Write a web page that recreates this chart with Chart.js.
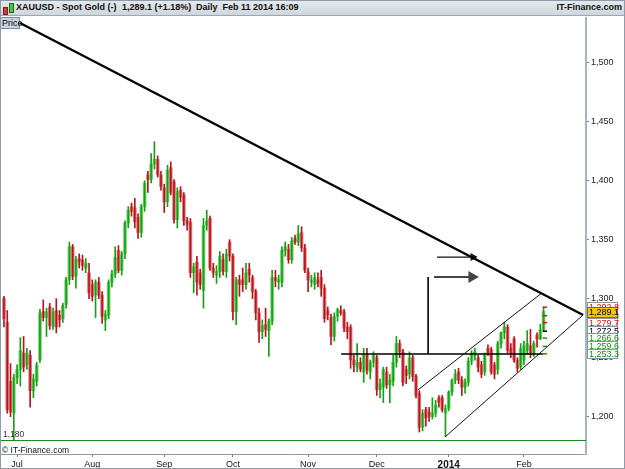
<!DOCTYPE html>
<html>
<head>
<meta charset="utf-8">
<script src="https://cdn.jsdelivr.net/npm/chart.js@4"></script>
<style>
  body { margin: 0; width: 625px; height: 469px; overflow: hidden; background: #fff;
         font-family: "Liberation Sans", Arial, sans-serif; position: relative; }
  #hdr { position: absolute; left: 0; top: 0; width: 625px; height: 16px; box-sizing: border-box;
         background: linear-gradient(#e6eaee, #cfd6dd); border-bottom: 1px solid #9aa7b4;
         font-size: 9px; font-weight: bold; color: #111; white-space: nowrap; }
  #hdr span { position: absolute; top: 2px; }
  .ic { position: absolute; width: 3px; }
  #wrap { position: absolute; left: 0; top: 17px; width: 625px; height: 452px; }
  #price { position: absolute; left: 0; top: 17px; width: 20px; height: 12px; box-sizing: border-box;
           background: #c9d3dd; border: 1px solid #7d8c9b; font-size: 9px; line-height: 10px; padding-left: 1px; }
  #copy { position: absolute; left: 2px; top: 445px; font-size: 8.5px; color: #111; }
  #frame { position: absolute; left: 0; top: 0; width: 625px; height: 469px; box-sizing: border-box;
           border: 1px solid #8d9aa7; pointer-events: none; }
</style>
</head>
<body>
<div id="hdr">
  <div class="ic" style="left:3px;top:7px;height:6px;background:#d23a3a;border:1px solid #8a1a1a"></div>
  <div class="ic" style="left:9px;top:3px;height:8px;background:#4cc24c;border:1px solid #127012"></div>
  <span style="left:16px">XAUUSD - Spot Gold (-)</span>
  <span style="left:122px">1,289.1 (+1.18%)</span>
  <span style="left:196px">Daily&nbsp; Feb 11 2014 16:09</span>
  <span style="right:3px">IT-Finance.com</span>
</div>
<div id="wrap"><canvas id="goldChart" width="625" height="452"></canvas></div>
<div id="price">Price</div>
<div id="copy">© IT-Finance.com</div>
<div id="frame"></div>

<script>
// daily candles, Jun 25 2013 .. Feb 11 2014 (one per weekday)
const opens = [1300,1280,1230,1203,1233,1240,1254,1244,1252,1222,1230,1248,1289,1284,1293,1277,1290,1286,1283,1295,
  1316,1344,1319,1334,1333,1326,1322,1312,1303,1314,1303,1282,1286,1314,1321,1341,1324,1338,1364,1378,
  1377,1369,1356,1378,1405,1401,1414,1418,1405,1394,1382,1411,1399,1367,1392,1388,1366,1365,1322,1331,
  1322,1307,1362,1368,1326,1320,1323,1333,1323,1348,1336,1289,1316,1316,1312,1325,1318,1306,1288,1272,
  1278,1273,1281,1318,1314,1314,1341,1342,1333,1351,1348,1356,1343,1323,1314,1312,1316,1318,1309,1290,
  1284,1268,1285,1290,1289,1276,1276,1248,1242,1246,1238,1252,1238,1246,1250,1223,1225,1238,1227,1230,
  1246,1262,1255,1240,1236,1250,1234,1220,1191,1206,1204,1200,1203,1216,1216,1203,1207,1221,1231,1238,
  1231,1225,1229,1247,1252,1250,1244,1238,1258,1257,1244,1240,1262,1271,1276,1258,1266,1248,1242,1248,
  1256,1260,1253,1269,1266,1273.8];
const highs = [1302,1290,1245,1236,1244,1267,1268,1258,1256,1236,1246,1291,1299,1292,1296,1292,1300,1290,1296,1318,
  1348,1346,1336,1338,1337,1334,1330,1316,1316,1318,1306,1290,1316,1324,1344,1345,1340,1366,1378,1381,
  1385,1372,1380,1400,1408,1423,1433,1421,1408,1397,1413,1416,1401,1394,1395,1390,1369,1368,1330,1336,
  1325,1368,1375,1370,1330,1328,1340,1338,1342,1350,1338,1318,1320,1326,1330,1330,1320,1308,1292,1282,
  1292,1283,1324,1324,1320,1344,1348,1346,1352,1354,1362,1361,1346,1326,1320,1322,1322,1324,1312,1293,
  1287,1288,1292,1294,1291,1280,1278,1252,1262,1250,1258,1258,1248,1255,1252,1232,1242,1242,1236,1252,
  1268,1265,1257,1243,1255,1252,1236,1222,1206,1208,1208,1216,1214,1218,1218,1210,1222,1232,1240,1241,
  1234,1232,1250,1256,1258,1252,1247,1254,1261,1259,1246,1264,1272,1280,1278,1262,1268,1250,1262,1264,
  1273,1274,1264,1271,1278.4,1293];
const lows = [1276,1203,1200,1180,1228,1226,1238,1240,1208,1216,1226,1246,1281,1268,1274,1274,1271,1276,1280,1292,
  1312,1316,1309,1326,1324,1322,1300,1298,1284,1300,1279,1273,1283,1310,1318,1322,1320,1334,1360,1370,
  1360,1351,1352,1374,1390,1398,1410,1403,1392,1373,1378,1388,1364,1360,1382,1362,1358,1318,1305,1303,
  1308,1292,1358,1324,1318,1313,1318,1320,1318,1332,1282,1278,1302,1306,1308,1314,1300,1282,1263,1266,
  1268,1251,1278,1310,1308,1310,1336,1330,1330,1346,1345,1340,1322,1306,1310,1308,1310,1302,1280,1282,
  1261,1264,1281,1286,1272,1266,1241,1238,1238,1238,1229,1236,1232,1242,1218,1216,1212,1224,1212,1226,
  1242,1250,1226,1228,1232,1230,1216,1187,1188,1192,1196,1198,1200,1208,1204,1183,1205,1218,1228,1228,
  1218,1220,1226,1244,1248,1238,1233,1235,1252,1236,1232,1236,1258,1266,1254,1250,1246,1238,1240,1244,
  1253,1250,1251,1259,1265.3,1272];
const closes = [1283,1206,1204,1233,1240,1256,1242,1254,1222,1232,1244,1288,1284,1289,1277,1289,1276,1282,1294,1316,
  1344,1319,1333,1331,1328,1330,1305,1302,1314,1303,1285,1287,1314,1321,1335,1324,1338,1364,1375,1374,
  1365,1356,1378,1398,1401,1414,1418,1405,1395,1382,1409,1390,1367,1391,1386,1366,1363,1322,1327,1314,
  1312,1362,1366,1326,1322,1323,1336,1323,1338,1336,1289,1316,1312,1312,1322,1320,1306,1288,1272,1277,
  1274,1281,1318,1315,1316,1341,1344,1333,1349,1348,1355,1343,1324,1316,1316,1318,1313,1309,1283,1286,
  1268,1285,1291,1288,1275,1272,1248,1244,1246,1240,1252,1240,1246,1252,1223,1228,1240,1227,1231,1246,
  1262,1255,1229,1235,1250,1234,1218,1191,1203,1199,1200,1203,1210,1212,1206,1207,1221,1231,1236,1231,
  1225,1229,1247,1254,1255,1242,1236,1252,1254,1238,1236,1262,1271,1276,1256,1254,1248,1241,1258,1260,
  1262,1253,1262,1266,1273.8,1289.1];

const monthLabels = ["Jul", "Aug", "Sep", "Oct", "Nov", "Dec", "2014", "Feb"];
const monthStarts = [4, 27, 49, 70, 93, 114, 136, 159];   // candle index of first day of month
const yTickStep = 50;

// drawn objects: [candle index, price]
const trendDown = [[4.9, 1533.6], [177.1, 1286.2]];
const channelTop = [[126.6, 1222.7], [164.5, 1304.9]];
const channelBottom = [[134.9, 1182.9], [177.1, 1286.2]];
const supportLine = [[103.1, 1253.1], [164.8, 1253.1]];
const stemLine = [[129.7, 1318.4], [129.7, 1253.1]];
const arrowA = [[132.4, 1335.3], [143.4, 1335.3]];
const arrowB = [[131.5, 1318.4], [143.1, 1318.4]];

const lowLevel = 1180;
const lastPrice = 1289.1;
const pivotLevels = [1292.8, 1285.6, 1279.7, 1272.5, 1266.6, 1259.6, 1253.3];
const pivotColors = ["#e01010", "#e01010", "#e01010", "#000", "#129612", "#129612", "#129612"];

const FONT = '"Liberation Sans", Arial, sans-serif';
const fmt1 = v => v.toLocaleString("en-US", { minimumFractionDigits: 1, maximumFractionDigits: 1 });
const pts = a => a.map(p => ({ x: p[0], y: p[1] }));

const idx = opens.map((_, i) => i);
const rising = idx.map(i => closes[i] >= opens[i]);

function lineSet(data, color, width, extra) {
    return Object.assign({
        type: "line", data: pts(data), borderColor: color, borderWidth: width,
        pointRadius: 0, order: 1, tension: 0
    }, extra || {});
}

// no label padding: plot area must fill the canvas edge to edge
function noPad(s) {
    s.paddingTop = 0; s.paddingBottom = 0; s.paddingLeft = 0; s.paddingRight = 0;
}

// === LABELS ON TOP: 1,180 and the right price boxes ===
const overlay = {
    id: "overlay",
    afterDatasetsDraw(chart) {
        const { ctx, chartArea: a, scales: { y } } = chart;
        const gy = Math.round(y.getPixelForValue(lowLevel)) + 0.5;
        ctx.save();
        ctx.strokeStyle = "#1f8a1f";
        ctx.lineWidth = 1;
        ctx.beginPath();
        ctx.moveTo(a.left, gy);
        ctx.lineTo(a.right, gy);
        ctx.stroke();
        ctx.font = "8.5px " + FONT;
        ctx.fillStyle = "#333";
        ctx.textBaseline = "bottom";
        ctx.fillText(lowLevel.toLocaleString("en-US"), 3, gy - 2);
        ctx.restore();
    },
    afterDraw(chart) {
        const { ctx, scales: { y } } = chart;
        const bx = 587, bw = 31, bh = 10;
        ctx.save();
        ctx.font = "9px " + FONT;
        ctx.textBaseline = "middle";
        pivotLevels.forEach((v, k) => {
            const py = Math.round(y.getPixelForValue(v));
            ctx.fillStyle = "#fff";
            ctx.fillRect(bx, py - bh / 2, bw, bh);
            ctx.strokeStyle = "#8a96a3";
            ctx.strokeRect(bx + 0.5, py - bh / 2 + 0.5, bw - 1, bh - 1);
            ctx.fillStyle = pivotColors[k];
            ctx.fillText(fmt1(v), bx + 2, py + 0.5);
        });
        const py = Math.round(y.getPixelForValue(lastPrice));
        ctx.fillStyle = "#f7c600";
        ctx.fillRect(bx, py - 5, bw, 11);
        ctx.strokeStyle = "#6b6b6b";
        ctx.strokeRect(bx + 0.5, py - 4.5, bw - 1, 10);
        ctx.fillStyle = "#000";
        ctx.fillText(fmt1(lastPrice), bx + 2, py + 1);
        ctx.restore();
    }
};

new Chart(document.getElementById("goldChart"), {
    type: "bar",
    data: {
        datasets: [
            {
                label: "wick",
                data: idx.map(i => ({ x: i, y: [lows[i], highs[i]] })),
                backgroundColor: rising.map(r => r ? "#15a015" : "#b8141c"),
                barThickness: 1, grouped: false, order: 2
            },
            {
                label: "body",
                data: idx.map(i => ({ x: i, y: [opens[i], closes[i]] })),
                backgroundColor: rising.map(r => r ? "#74d474" : "#e37b7e"),
                barThickness: 3, grouped: false, order: 3, minBarLength: 1
            },
            lineSet(trendDown, "#000", 2.4),
            lineSet(channelTop, "#111", 1),
            lineSet(channelBottom, "#111", 1),
            lineSet(supportLine, "#000", 1.6),
            lineSet(stemLine, "#000", 1.6),
            lineSet(arrowA, "#111", 1.2, {
                pointRadius: [0, 3.5], pointStyle: "triangle", rotation: 90,
                pointBackgroundColor: "#111", pointBorderColor: "#111"
            }),
            lineSet(arrowB, "#444", 2, {
                pointRadius: [0, 5], pointStyle: "triangle", rotation: 90,
                pointBackgroundColor: "#444", pointBorderColor: "#444"
            }),
            {
                type: "line", showLine: false, order: 0,
                data: pivotLevels.map(v => ({ x: 165.4, y: v })),
                pointStyle: "line", pointRadius: 2.2, pointBorderWidth: 1.5,
                pointBorderColor: pivotColors
            }
        ]
    },
    options: {
        responsive: false,
        animation: false,
        layout: { padding: 0, autoPadding: false },
        plugins: { legend: { display: false }, tooltip: { enabled: false } },
        scales: {
            x: {
                type: "linear", min: -1.22, max: 177.98, offset: false,
                afterFit: s => { s.height = 15; noPad(s); },
                afterBuildTicks: s => { s.ticks = monthStarts.map(v => ({ value: v })); },
                grid: { drawOnChartArea: false, offset: false, tickLength: 3, color: "#6d7b88" },
                border: { color: "#8c9aa8", width: 1 },
                ticks: {
                    autoSkip: false, maxRotation: 0, padding: 2, color: "#111",
                    font: c => ({ family: FONT, size: c.index === 6 ? 10 : 9, weight: c.index === 6 ? "bold" : "normal" }),
                    callback: (v, i) => monthLabels[i]
                }
            },
            y: {
                type: "linear", position: "right", min: 1168.4, max: 1538.7,
                afterFit: s => { s.width = 39; noPad(s); },
                grid: { drawOnChartArea: false, tickLength: 3, color: "#6d7b88" },
                border: { color: "#a7b5c2", width: 2 },
                ticks: {
                    stepSize: yTickStep, includeBounds: false, padding: 2, color: "#222",
                    font: { family: FONT, size: 9 },
                    callback: v => v.toLocaleString("en-US")
                }
            }
        }
    },
    plugins: [overlay]
});
</script>
</body>
</html>
